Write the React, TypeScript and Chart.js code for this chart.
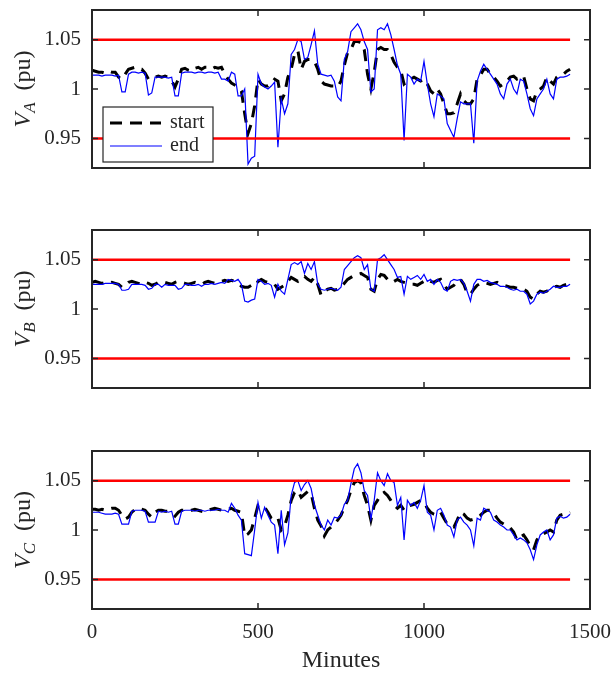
import React, { useEffect, useRef } from "react";
import { Chart, registerables } from "chart.js";

Chart.register(...registerables);

// ---------- data ----------
const MINUTES = [
  0, 10, 20, 30, 40, 50, 60, 70, 80, 90,
  100, 110, 120, 130, 140, 150, 160, 170, 180, 190,
  200, 210, 220, 230, 240, 250, 260, 270, 280, 290,
  300, 310, 320, 330, 340, 350, 360, 370, 380, 390,
  400, 410, 420, 430, 440, 450, 460, 470, 480, 490,
  500, 510, 520, 530, 540, 550, 560, 570, 580, 590,
  600, 610, 620, 630, 640, 650, 660, 670, 680, 690,
  700, 710, 720, 730, 740, 750, 760, 770, 780, 790,
  800, 810, 820, 830, 840, 850, 860, 870, 880, 890,
  900, 910, 920, 930, 940, 950, 960, 970, 980, 990,
  1000, 1010, 1020, 1030, 1040, 1050, 1060, 1070, 1080, 1090,
  1100, 1110, 1120, 1130, 1140, 1150, 1160, 1170, 1180, 1190,
  1200, 1210, 1220, 1230, 1240, 1250, 1260, 1270, 1280, 1290,
  1300, 1310, 1320, 1330, 1340, 1350, 1360, 1370, 1380, 1390,
  1400, 1410, 1420, 1430, 1440,
];

const VA_START = [
  1.019, 1.018, 1.017, 1.017, 1.016, 1.018, 1.017, 1.017, 1.012, 1.010,
  1.015, 1.020, 1.021, 1.022, 1.020, 1.020, 1.016, 1.010, 1.012, 1.012,
  1.013, 1.012, 1.013, 1.012, 1.008, 1.002, 1.010, 1.020, 1.021, 1.019,
  1.018, 1.021, 1.022, 1.020, 1.022, 1.022, 1.020, 1.022, 1.021, 1.022,
  1.015, 1.010, 1.006, 1.004, 1.002, 0.998, 0.975, 0.955, 0.965, 0.983,
  1.010, 1.005, 1.003, 1.003, 1.006, 1.010, 1.008, 0.988, 0.995, 1.012,
  1.020, 1.035, 1.039, 1.020, 1.028, 1.030, 1.030, 1.028, 1.020, 1.008,
  1.005, 1.004, 1.003, 1.003, 1.002, 1.008, 1.024, 1.037, 1.040, 1.048,
  1.048, 1.047, 1.040, 1.015, 1.000, 1.017, 1.040, 1.042, 1.040, 1.040,
  1.035, 1.027, 1.022, 1.019, 1.005, 1.008, 1.010, 1.012, 1.010, 1.008,
  1.010, 1.005, 0.998, 0.995, 1.000, 0.995, 0.985, 0.975, 0.975, 0.976,
  0.985, 0.995, 0.988, 0.985, 0.985, 0.990, 1.010, 1.014, 1.020, 1.020,
  1.015, 1.012, 1.008, 1.003, 1.005, 1.008, 1.012, 1.013, 1.010, 1.012,
  1.013, 1.000, 0.990, 0.988, 0.998, 1.000, 1.003, 1.012, 1.008, 1.005,
  1.012, 1.014, 1.015, 1.018, 1.020,
];

const VA_END = [
  1.014, 1.014, 1.014, 1.013, 1.014, 1.014, 1.014, 1.013, 1.014, 0.997,
  0.997, 1.015, 1.017, 1.017, 1.016, 1.017, 1.016, 0.994, 0.996, 1.012,
  1.012, 1.012, 1.012, 1.011, 1.012, 0.993, 0.993, 1.016, 1.017, 1.017,
  1.017, 1.016, 1.017, 1.017, 1.016, 1.017, 1.017, 1.016, 1.017, 1.010,
  1.010, 1.008, 1.017, 1.015, 0.993, 0.993, 1.000, 0.924, 0.930, 0.932,
  1.015, 1.005, 1.002, 1.000, 1.003, 1.007, 0.941, 0.990, 0.975, 0.985,
  1.035, 1.040, 1.050, 1.048, 1.030, 1.032, 1.045, 1.059, 1.025, 1.015,
  1.014, 1.013, 1.014, 1.008, 0.992, 0.988, 1.030, 1.038, 1.058, 1.062,
  1.066, 1.060, 1.048, 1.040, 0.997, 1.000, 1.060, 1.062, 1.060, 1.066,
  1.055, 1.040, 1.024, 1.015, 0.948, 1.015, 1.012, 1.005, 1.010, 1.008,
  1.028, 1.005, 0.985, 0.972, 0.995, 0.993, 0.990, 0.965, 0.958, 0.951,
  0.970, 0.987, 0.985, 0.985, 0.985, 0.945, 1.008, 1.018, 1.025, 1.020,
  1.015, 1.010, 1.005, 0.995, 0.990, 1.005, 1.010, 1.000, 0.995, 1.010,
  1.008, 0.995, 0.980, 0.973, 0.990, 0.995, 1.000, 1.010, 0.995, 0.990,
  1.010, 1.012, 1.012, 1.013, 1.015,
];

const VB_START = [
  1.027, 1.028, 1.027, 1.026, 1.027, 1.026, 1.027, 1.026, 1.025, 1.022,
  1.024, 1.027, 1.028, 1.027, 1.026, 1.025, 1.027, 1.026, 1.024, 1.025,
  1.027, 1.028, 1.027, 1.026, 1.025, 1.027, 1.028, 1.027, 1.026, 1.025,
  1.026, 1.027, 1.026, 1.025, 1.027, 1.028, 1.027, 1.026, 1.027, 1.028,
  1.029, 1.028, 1.029, 1.028, 1.026, 1.023, 1.022, 1.022, 1.024, 1.023,
  1.028, 1.030, 1.028, 1.027, 1.026, 1.025, 1.020, 1.022, 1.024, 1.028,
  1.032, 1.030, 1.028, 1.032, 1.033, 1.030, 1.028, 1.032, 1.025, 1.014,
  1.018, 1.020, 1.021, 1.019, 1.020, 1.022, 1.026, 1.030, 1.032, 1.034,
  1.035, 1.036, 1.034, 1.032, 1.020, 1.018, 1.030, 1.035, 1.034, 1.030,
  1.031, 1.028, 1.030, 1.028, 1.027, 1.026, 1.025, 1.025, 1.024, 1.026,
  1.028, 1.030, 1.028, 1.027, 1.029, 1.030, 1.025, 1.020, 1.022, 1.024,
  1.028, 1.030, 1.025, 1.016, 1.015, 1.020, 1.024, 1.026, 1.027, 1.026,
  1.025, 1.026, 1.027, 1.025, 1.024, 1.023, 1.022, 1.022, 1.021, 1.020,
  1.020, 1.018, 1.012, 1.010, 1.015, 1.018, 1.017, 1.018, 1.020, 1.022,
  1.023, 1.022, 1.024, 1.025, 1.027,
];

const VB_END = [
  1.025, 1.025, 1.025, 1.025, 1.026, 1.026, 1.026, 1.026, 1.025, 1.019,
  1.019, 1.020, 1.025, 1.025, 1.025, 1.025, 1.024, 1.020, 1.021, 1.025,
  1.025, 1.022, 1.025, 1.024, 1.024, 1.024, 1.020, 1.021, 1.025, 1.025,
  1.024, 1.024, 1.025, 1.023, 1.025, 1.025, 1.026, 1.025, 1.026, 1.027,
  1.026, 1.030, 1.029, 1.028, 1.030, 1.025, 1.008, 1.007, 1.009, 1.010,
  1.030, 1.028, 1.025, 1.026, 1.024, 1.012, 1.025, 1.018, 1.015, 1.030,
  1.045, 1.047, 1.045, 1.048, 1.036, 1.046, 1.040, 1.048, 1.025, 1.020,
  1.019, 1.020, 1.021, 1.020, 1.019, 1.022, 1.040, 1.044, 1.048, 1.052,
  1.054, 1.052, 1.040, 1.045, 1.020, 1.018, 1.050, 1.052, 1.055, 1.050,
  1.045, 1.040, 1.032, 1.033, 1.015, 1.033, 1.030, 1.032, 1.034, 1.030,
  1.035, 1.028, 1.030, 1.025, 1.030, 1.027, 1.020, 1.018, 1.028, 1.030,
  1.029, 1.030, 1.026, 1.018, 1.008, 1.025, 1.030, 1.030, 1.028, 1.029,
  1.027, 1.026, 1.025, 1.023, 1.023, 1.022, 1.020, 1.019, 1.020, 1.018,
  1.018, 1.015, 1.005, 1.008, 1.015, 1.017, 1.016, 1.018, 1.020, 1.023,
  1.022, 1.022, 1.023, 1.023, 1.025,
];

const VC_START = [
  1.021, 1.021, 1.020, 1.021, 1.020, 1.021, 1.022, 1.022, 1.020, 1.015,
  1.011, 1.013, 1.018, 1.021, 1.022, 1.021, 1.020, 1.016, 1.013, 1.018,
  1.020, 1.020, 1.019, 1.019, 1.017, 1.014, 1.018, 1.020, 1.020, 1.019,
  1.020, 1.021, 1.020, 1.019, 1.018, 1.020, 1.021, 1.022, 1.021, 1.020,
  1.020, 1.021, 1.022, 1.020, 1.019, 1.018, 0.994, 0.996, 1.000, 1.012,
  1.025, 1.024, 1.023, 1.018, 1.012, 1.010, 1.012, 1.000, 1.004, 1.015,
  1.030, 1.038, 1.040, 1.033, 1.036, 1.039, 1.037, 1.022, 1.010, 1.004,
  0.994, 1.000, 1.003, 1.006, 1.010, 1.015, 1.023, 1.030, 1.040, 1.048,
  1.050, 1.048, 1.035, 1.025, 1.010, 1.025, 1.030, 1.036, 1.038, 1.035,
  1.030, 1.025, 1.022, 1.025, 1.020, 1.024, 1.025, 1.026, 1.028, 1.030,
  1.028, 1.022, 1.018, 1.016, 1.015, 1.018, 1.012, 1.006, 1.004, 1.003,
  1.010, 1.018, 1.016, 1.012, 1.010, 1.011, 1.013, 1.015, 1.018, 1.020,
  1.020, 1.017, 1.012, 1.008, 1.006, 1.005, 1.002, 0.998, 0.990, 0.993,
  0.995, 0.990, 0.984, 0.980, 0.990, 0.995, 0.996, 0.998, 1.000, 0.998,
  1.010, 1.015, 1.016, 1.016, 1.018,
];

const VC_END = [
  1.018, 1.018, 1.018, 1.017, 1.016, 1.016, 1.016, 1.017, 1.016, 1.006,
  1.006, 1.006, 1.019, 1.020, 1.020, 1.020, 1.019, 1.008, 1.008, 1.008,
  1.019, 1.018, 1.019, 1.018, 1.019, 1.006, 1.006, 1.019, 1.020, 1.020,
  1.020, 1.019, 1.020, 1.020, 1.019, 1.020, 1.020, 1.020, 1.021, 1.020,
  1.020, 1.018, 1.027, 1.022, 1.015, 1.010, 0.976, 0.975, 0.974, 1.000,
  1.028, 1.012, 1.023, 1.015, 1.008, 1.005, 0.976, 1.020, 0.985, 0.997,
  1.035, 1.048, 1.050, 1.040, 1.046, 1.050, 1.042, 1.025, 1.015, 1.005,
  1.000, 1.010, 1.005, 1.013, 1.012, 1.015, 1.026, 1.030, 1.047, 1.062,
  1.067, 1.058, 1.040, 1.035, 1.011, 1.030, 1.058, 1.050, 1.045, 1.057,
  1.050, 1.048, 1.025, 1.033, 0.990, 1.030, 1.025, 1.028, 1.022, 1.030,
  1.045, 1.018, 1.015, 1.000, 1.020, 1.022, 1.015, 1.005, 1.003, 0.993,
  1.010, 1.013, 1.008, 1.005, 1.000, 0.984, 1.012, 1.010, 1.022, 1.020,
  1.018, 1.010, 1.008, 1.005, 1.003, 1.000, 1.000, 0.995, 0.990, 0.992,
  0.990, 0.987, 0.980, 0.970, 0.985, 0.995, 0.998, 1.000, 0.990, 0.995,
  1.012, 1.014, 1.012, 1.013, 1.016,
];

const LIMIT_MINUTES = [0, 1440];
const UPPER_LIMIT = [1.05, 1.05];
const LOWER_LIMIT = [0.95, 0.95];

const Y_TICKS = [0.95, 1, 1.05];
const X_TICKS = [0, 500, 1000, 1500];
const Y_RANGE = [0.92, 1.08];
const X_RANGE = [0, 1500];

const LEGEND_LABELS = ["start", "end"];
const X_TITLE = "Minutes";

// ---------- styling ----------
const FONT = "'Liberation Serif', 'Times New Roman', serif";
const AXIS_COLOR = "#262626";

const framePlugin = {
  id: "frame",
  afterDatasetsDraw(chart: any, _args: any, opts: any) {
    const { ctx, chartArea: a, scales } = chart;
    ctx.save();
    // tick marks (inside, on all four sides)
    ctx.strokeStyle = AXIS_COLOR;
    ctx.lineWidth = 1.5;
    ctx.beginPath();
    for (const v of Y_TICKS) {
      const y = scales.y.getPixelForValue(v);
      ctx.moveTo(a.left, y);
      ctx.lineTo(a.left + 6, y);
      ctx.moveTo(a.right, y);
      ctx.lineTo(a.right - 6, y);
    }
    for (const v of X_TICKS) {
      const x = scales.x.getPixelForValue(v);
      ctx.moveTo(x, a.top);
      ctx.lineTo(x, a.top + 6);
      ctx.moveTo(x, a.bottom);
      ctx.lineTo(x, a.bottom - 6);
    }
    ctx.stroke();
    // box
    ctx.lineWidth = 2;
    ctx.strokeRect(a.left, a.top, a.right - a.left, a.bottom - a.top);

    // legend
    if (opts.legend) {
      const bx = a.left + 11;
      const bw = 110;
      const bh = 55;
      const by = a.bottom - 6 - bh;
      ctx.fillStyle = "#ffffff";
      ctx.fillRect(bx, by, bw, bh);
      ctx.lineWidth = 1.2;
      ctx.strokeStyle = AXIS_COLOR;
      ctx.strokeRect(bx, by, bw, bh);
      const ds = chart.data.datasets;
      const startDs = ds[3];
      const endDs = ds[2];
      const rows = [
        { d: startDs, y: by + 16, x2: bx + 58 },
        { d: endDs, y: by + 39, x2: bx + 59 },
      ];
      rows.forEach((r, i) => {
        ctx.beginPath();
        ctx.strokeStyle = r.d.borderColor;
        ctx.lineWidth = r.d.borderWidth;
        ctx.setLineDash(r.d.borderDash || []);
        ctx.moveTo(bx + 7, r.y);
        ctx.lineTo(r.x2, r.y);
        ctx.stroke();
        ctx.setLineDash([]);
        ctx.fillStyle = AXIS_COLOR;
        ctx.font = `20px ${FONT}`;
        ctx.textAlign = "left";
        ctx.textBaseline = "middle";
        ctx.fillText(LEGEND_LABELS[i], bx + 67, r.y);
      });
    }

    // y title: V_X (pu), rotated
    const cx = 30;
    const cy = (a.top + a.bottom) / 2;
    ctx.translate(cx, cy);
    ctx.rotate(-Math.PI / 2);
    ctx.fillStyle = AXIS_COLOR;
    ctx.textBaseline = "alphabetic";
    ctx.textAlign = "left";
    const bigI = `italic 24px ${FONT}`;
    const subI = `italic 17px ${FONT}`;
    const big = `24px ${FONT}`;
    ctx.font = bigI;
    const wV = ctx.measureText("V").width;
    ctx.font = subI;
    const wS = ctx.measureText(opts.sub).width;
    ctx.font = big;
    const rest = "  (pu)";
    const wR = ctx.measureText(rest).width;
    let x = -(wV + wS + wR) / 2;
    ctx.font = bigI;
    ctx.fillText("V", x, 0);
    x += wV;
    ctx.font = subI;
    ctx.fillText(opts.sub, x, 5);
    x += wS;
    ctx.font = big;
    ctx.fillText(rest, x, 0);
    ctx.restore();
  },
};

function pts(xs: number[], ys: number[]) {
  return xs.map((m, i) => ({ x: m, y: ys[i] }));
}

function zeroPad(s: any) {
  s.paddingTop = 0;
  s.paddingBottom = 0;
  s.paddingLeft = 0;
  s.paddingRight = 0;
}

type PanelProps = {
  top: number;
  height: number;
  start: number[];
  end: number[];
  sub: string;
  showX: boolean;
  legend: boolean;
};

function Panel({ top, height, start, end, sub, showX, legend }: PanelProps) {
  const ref = useRef<HTMLCanvasElement | null>(null);
  useEffect(() => {
    if (!ref.current) return;
    const chart = new Chart(ref.current, {
      type: "line",
      data: {
        datasets: [
          {
            label: "upper",
            data: pts(LIMIT_MINUTES, UPPER_LIMIT),
            borderColor: "#ff0000",
            borderWidth: 2.5,
            pointRadius: 0,
          },
          {
            label: "lower",
            data: pts(LIMIT_MINUTES, LOWER_LIMIT),
            borderColor: "#ff0000",
            borderWidth: 2.5,
            pointRadius: 0,
          },
          {
            label: LEGEND_LABELS[1],
            data: pts(MINUTES, end),
            borderColor: "#0000ff",
            borderWidth: 1.2,
            pointRadius: 0,
          },
          {
            label: LEGEND_LABELS[0],
            data: pts(MINUTES, start),
            borderColor: "#000000",
            borderWidth: 3,
            borderDash: [12, 8],
            pointRadius: 0,
          },
        ],
      },
      options: {
        responsive: false,
        animation: false,
        events: [],
        layout: {
          padding: { top: 10, right: 24, left: 0, bottom: showX ? 0 : 12 },
        },
        elements: { line: { tension: 0 } },
        scales: {
          x: {
            type: "linear",
            min: X_RANGE[0],
            max: X_RANGE[1],
            grid: { display: false, drawTicks: false },
            border: { display: false },
            afterBuildTicks: (s: any) => {
              s.ticks = X_TICKS.map((v) => ({ value: v }));
            },
            afterFit: (s: any) => {
              s.height = showX ? 64 : 0;
              zeroPad(s);
            },
            ticks: {
              display: showX,
              padding: 11,
              maxRotation: 0,
              color: AXIS_COLOR,
              font: { family: FONT, size: 21 },
              callback: (v: any) => String(v),
            },
            title: {
              display: showX,
              text: X_TITLE,
              color: AXIS_COLOR,
              font: { family: FONT, size: 24, lineHeight: 1 },
              padding: { top: 0, bottom: 0 },
            },
          },
          y: {
            type: "linear",
            min: Y_RANGE[0],
            max: Y_RANGE[1],
            grid: { display: false, drawTicks: false },
            border: { display: false },
            afterBuildTicks: (s: any) => {
              s.ticks = Y_TICKS.map((v) => ({ value: v }));
            },
            afterFit: (s: any) => {
              s.width = 92;
              zeroPad(s);
            },
            ticks: {
              padding: 11,
              color: AXIS_COLOR,
              font: { family: FONT, size: 21 },
              callback: (v: any) => String(v),
            },
          },
        },
        plugins: {
          legend: { display: false },
          tooltip: { enabled: false },
          frame: { sub, legend },
        } as any,
      },
      plugins: [framePlugin],
    } as any);
    return () => chart.destroy();
  }, [top, height, start, end, sub, showX, legend]);
  return (
    <canvas
      ref={ref}
      width={614}
      height={height}
      style={{ position: "absolute", left: 0, top, width: 614, height }}
    />
  );
}

export default function App() {
  return (
    <div
      style={{
        position: "absolute",
        left: 0,
        top: 0,
        width: 614,
        height: 673,
        background: "#ffffff",
        overflow: "hidden",
      }}
    >
      <Panel top={0} height={180} start={VA_START} end={VA_END} sub="A" showX={false} legend={true} />
      <Panel top={220} height={180} start={VB_START} end={VB_END} sub="B" showX={false} legend={false} />
      <Panel top={441} height={232} start={VC_START} end={VC_END} sub="C" showX={true} legend={false} />
    </div>
  );
}
